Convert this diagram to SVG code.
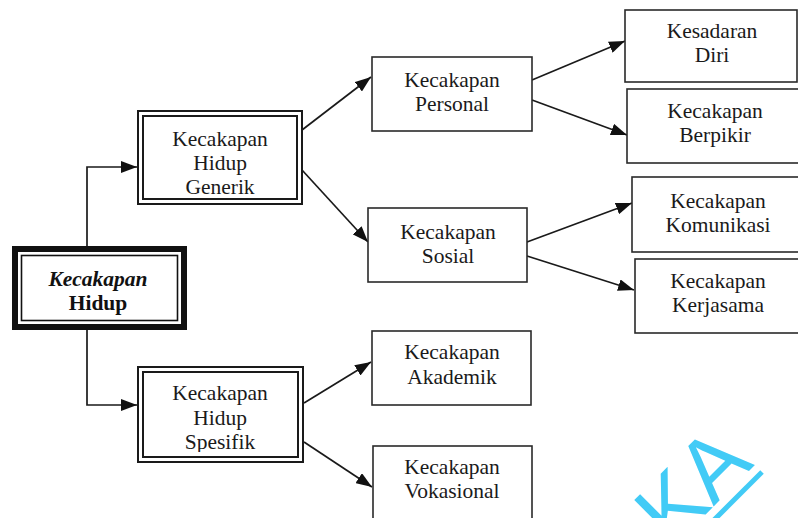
<svg xmlns="http://www.w3.org/2000/svg" width="798" height="518" viewBox="0 0 798 518">
  <style>
    .box { fill: #fff; stroke: #2a2a2a; stroke-width: 1.6; }
    .dbl { fill: none; stroke: #1a1a1a; stroke-width: 2; }
    .lbl { font-family: "Liberation Serif", "Times New Roman", serif; font-size: 21.5px; fill: #1a1a1a; text-anchor: middle; }
    .root { font-family: "Liberation Serif", "Times New Roman", serif; font-size: 21.5px; font-weight: bold; fill: #111; text-anchor: middle; }
    .edge { fill: none; stroke: #1a1a1a; stroke-width: 1.7; marker-end: url(#arrow); }
    .wm { font-family: "Liberation Sans", Arial, sans-serif; font-size: 88px; fill: #42cbf6; }
  </style>
  <defs>
    <marker id="arrow" viewBox="0 0 16 12" refX="16" refY="6" markerWidth="16" markerHeight="12" markerUnits="userSpaceOnUse" orient="auto">
      <path d="M0,0 L16,6 L0,12 z" fill="#111"/>
    </marker>
  </defs>
  <rect width="798" height="518" fill="#fff"/>

  <!-- connectors -->
  <g id="connectors">
    <polyline class="edge" points="87,246 87,167 137,167"/>
    <polyline class="edge" points="87,330 87,405 137,405"/>
    <line class="edge" x1="302" y1="130" x2="371" y2="77"/>
    <line class="edge" x1="302" y1="170" x2="368" y2="242"/>
    <line class="edge" x1="532" y1="80" x2="625" y2="41"/>
    <line class="edge" x1="532" y1="100" x2="627" y2="135"/>
    <line class="edge" x1="527" y1="242" x2="632" y2="203"/>
    <line class="edge" x1="527" y1="256" x2="634" y2="290"/>
    <line class="edge" x1="304" y1="403" x2="371" y2="362"/>
    <line class="edge" x1="304" y1="442" x2="372" y2="487"/>
  </g>

  <!-- root node: thick outer frame with thin inner frame -->
  <g id="kecakapan-hidup">
    <rect x="15" y="249" width="169" height="78" fill="#fff" stroke="#111" stroke-width="6"/>
    <rect x="21.5" y="255.5" width="156" height="65" fill="none" stroke="#111" stroke-width="1.6"/>
    <text class="root" x="98" y="286" font-style="italic">Kecakapan</text>
    <text class="root" x="98" y="310">Hidup</text>
  </g>

  <!-- second level: double-line frames -->
  <g id="hidup-generik">
    <rect x="138" y="111" width="164" height="93" fill="#fff" stroke="none"/>
    <text class="lbl" x="220" y="146">Kecakapan</text>
    <text class="lbl" x="220" y="170">Hidup</text>
    <text class="lbl" x="220" y="194">Generik</text>
    <rect class="dbl" x="138" y="111" width="164" height="93"/>
    <rect class="dbl" x="143" y="116" width="154" height="83"/>
  </g>
  <g id="hidup-spesifik">
    <rect x="138" y="367" width="165" height="95" fill="#fff" stroke="none"/>
    <text class="lbl" x="220" y="400">Kecakapan</text>
    <text class="lbl" x="220" y="425">Hidup</text>
    <text class="lbl" x="220" y="449">Spesifik</text>
    <rect x="143" y="452" width="155" height="6" fill="#fff"/>
    <rect class="dbl" x="138" y="367" width="165" height="95"/>
    <rect class="dbl" x="143" y="372" width="155" height="85"/>
  </g>

  <!-- third level -->
  <g id="personal">
    <rect class="box" x="372" y="57" width="160" height="74"/>
    <text class="lbl" x="452" y="87">Kecakapan</text>
    <text class="lbl" x="452" y="111">Personal</text>
  </g>
  <g id="sosial">
    <rect class="box" x="368" y="208" width="159" height="74"/>
    <text class="lbl" x="448" y="239">Kecakapan</text>
    <text class="lbl" x="448" y="263">Sosial</text>
  </g>
  <g id="akademik">
    <rect class="box" x="372" y="331" width="159" height="74"/>
    <text class="lbl" x="452" y="359">Kecakapan</text>
    <text class="lbl" x="452" y="384">Akademik</text>
  </g>
  <g id="vokasional">
    <rect class="box" x="373" y="446" width="159" height="80"/>
    <text class="lbl" x="452" y="474">Kecakapan</text>
    <text class="lbl" x="452" y="498">Vokasional</text>
  </g>

  <!-- fourth level -->
  <g id="kesadaran-diri">
    <rect class="box" x="625" y="10" width="172" height="72"/>
    <text class="lbl" x="712" y="38">Kesadaran</text>
    <text class="lbl" x="712" y="62">Diri</text>
  </g>
  <g id="berpikir">
    <rect class="box" x="627" y="89" width="172" height="74"/>
    <text class="lbl" x="715" y="118">Kecakapan</text>
    <text class="lbl" x="715" y="142">Berpikir</text>
  </g>
  <g id="komunikasi">
    <rect class="box" x="632" y="177" width="170" height="75"/>
    <text class="lbl" x="718" y="208">Kecakapan</text>
    <text class="lbl" x="718" y="232">Komunikasi</text>
  </g>
  <g id="kerjasama">
    <rect class="box" x="635" y="259" width="170" height="74"/>
    <text class="lbl" x="718" y="288">Kecakapan</text>
    <text class="lbl" x="718" y="312">Kerjasama</text>
  </g>

  <!-- diagonal watermark in the lower right corner -->
  <g id="watermark">
    <text class="wm" text-anchor="end" transform="translate(755,465) rotate(-45)">KA</text>
    <line x1="762" y1="472" x2="650" y2="584" stroke="#42cbf6" stroke-width="5"/>
  </g>
</svg>
